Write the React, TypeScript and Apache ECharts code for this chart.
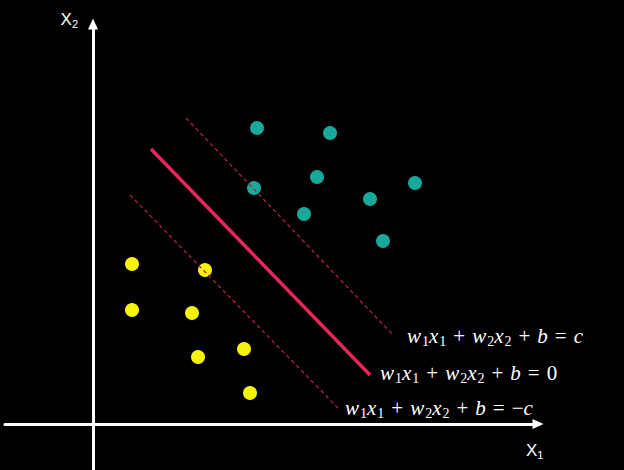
import React, { useEffect, useRef } from "react";
import * as echarts from "echarts";

// Data coordinates: origin at the axes' crossing
const class1X = [164, 237, 224, 161, 322, 277, 211, 290];
const class1Y = [296, 291, 247, 236, 241, 225, 210, 183];
const class2X = [39, 112, 39, 99, 105, 151, 157];
const class2Y = [160, 154, 114, 111, 67, 75, 31];

const boundaryLine = [[58, 275], [277, 49]];
const upperMargin = [[93, 306], [300, 89]];
const lowerMargin = [[37, 229], [245, 16]];

const eqUpper = "{i|w}{s|1}{i|x}{s|1}{o|+}{i|w}{s|2}{i|x}{s|2}{o|+}{i|b}{o|=}{i|c}";
const eqMid = "{i|w}{s|1}{i|x}{s|1}{o|+}{i|w}{s|2}{i|x}{s|2}{o|+}{i|b}{o|=}{r|0}";
const eqLower = "{i|w}{s|1}{i|x}{s|1}{o|+}{i|w}{s|2}{i|x}{s|2}{o|+}{i|b}{o|=}{r|−}{i|c}";

const xName = "{a|X}{b|1}";
const yName = "{a|X}{b|2}";

const zip = (xs: number[], ys: number[]) => xs.map((x, i) => [x, ys[i]]);

const FS = 21;
const eqRich = {
  i: { fontFamily: "Liberation Serif", fontStyle: "italic", fontSize: FS, color: "#fff", lineHeight: 26 },
  r: { fontFamily: "Liberation Serif", fontSize: FS, color: "#fff", lineHeight: 26 },
  o: { fontFamily: "Liberation Serif", fontSize: FS, color: "#fff", lineHeight: 26, padding: [0, 7, 0, 7] },
  s: { fontFamily: "Liberation Serif", fontSize: 14, color: "#fff", padding: [10, 0, 0, 1] },
};
const nameRich = {
  a: { fontFamily: "Liberation Sans", fontSize: 17, color: "#fff", lineHeight: 22 },
  b: { fontFamily: "Liberation Sans", fontSize: 11, color: "#fff", padding: [10, 0, 0, 0] },
};

export default function App() {
  const ref = useRef<HTMLDivElement>(null);
  useEffect(() => {
    document.body.style.margin = "0";
    document.body.style.background = "#000";
    const chart = echarts.init(ref.current!, null, { renderer: "svg" });
    const lineSeries = (data: number[][], dashed: boolean, text: string, offset: number[]) => ({
      type: "line",
      data,
      showSymbol: false,
      symbol: "none",
      z: 5,
      lineStyle: dashed
        ? { color: "#b02042", width: 1.3, type: [4, 3] }
        : { color: "#e8265a", width: 3.5 },
      endLabel: {
        show: true,
        formatter: () => text,
        distance: 0,
        offset,
        rich: eqRich,
      },
    });
    chart.setOption({
      animation: false,
      backgroundColor: "#000",
      grid: { left: 5, right: 86, top: 24, bottom: 0 },
      xAxis: {
        type: "value",
        min: -88,
        max: 445,
        axisLine: {
          onZero: true,
          symbol: ["none", "triangle"],
          symbolSize: [10, 11],
          lineStyle: { color: "#fff", width: 3 },
        },
        axisTick: { show: false },
        axisLabel: { show: false },
        splitLine: { show: false },
        name: xName,
        nameLocation: "end",
        nameGap: -12,
        nameTextStyle: { align: "left", verticalAlign: "top", padding: [15, 0, 0, 0], rich: nameRich },
      },
      yAxis: {
        type: "value",
        min: -46,
        max: 400,
        axisLine: {
          onZero: true,
          symbol: ["none", "triangle"],
          symbolSize: [10, 11],
          lineStyle: { color: "#fff", width: 3 },
        },
        axisTick: { show: false },
        axisLabel: { show: false },
        splitLine: { show: false },
        name: yName,
        nameLocation: "end",
        nameGap: 5,
        nameTextStyle: { align: "right", verticalAlign: "middle", padding: [0, 15, 0, 0], rich: nameRich },
      },
      series: [
        {
          type: "scatter",
          data: zip(class1X, class1Y),
          symbolSize: 14,
          itemStyle: { color: "#19a89c", opacity: 1 },
          z: 2,
        },
        {
          type: "scatter",
          data: zip(class2X, class2Y),
          symbolSize: 14,
          itemStyle: { color: "#f7f20a", opacity: 1 },
          z: 2,
        },
        lineSeries(upperMargin, true, eqUpper, [14, 1]),
        lineSeries(boundaryLine, false, eqMid, [10, -2]),
        lineSeries(lowerMargin, true, eqLower, [7, 0]),
      ],
    });
    return () => chart.dispose();
  }, []);
  return (
    <div
      ref={ref}
      style={{ position: "absolute", left: 0, top: 0, width: 624, height: 470, background: "#000" }}
    />
  );
}
